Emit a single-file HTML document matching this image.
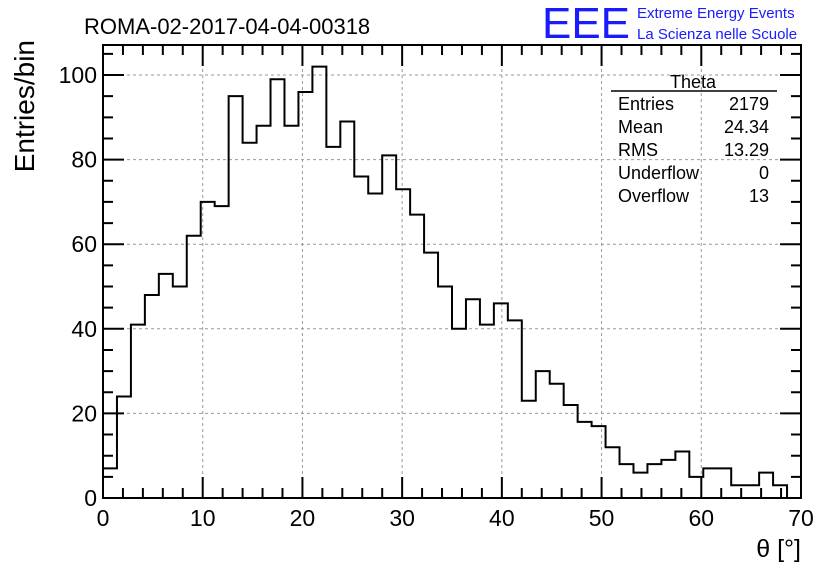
<!DOCTYPE html>
<html><head><meta charset="utf-8"><style>
body{margin:0;background:#fff;}
svg{display:block;font-family:"Liberation Sans",sans-serif;}
</style></head><body>
<svg id="c" width="836" height="572">
<rect width="836" height="572" fill="#fff"/>
<text x="84" y="34" font-size="22">ROMA-02-2017-04-04-00318</text>
<text x="542" y="38" font-size="44" fill="#1a1aff" textLength="88" lengthAdjust="spacingAndGlyphs">EEE</text>
<text x="637" y="18" font-size="15" fill="#1a1aff">Extreme Energy Events</text>
<text x="637" y="39" font-size="15" fill="#1a1aff">La Scienza nelle Scuole</text>
<g id="grid"></g>
<g id="axes"></g>
<path id="hist" fill="none" stroke="#000" stroke-width="2"/>
<text x="34" y="40" font-size="28" transform="rotate(-90 34 40)" text-anchor="end">Entries/bin</text>
<text x="801" y="557" font-size="25" text-anchor="end">θ [°]</text>
<g font-size="18">
<text x="693" y="88" text-anchor="middle">Theta</text>
<line x1="611" y1="91" x2="777" y2="91" stroke="#000" stroke-width="1.5"/>
<text x="618" y="110">Entries</text><text x="769" y="110" text-anchor="end">2179</text>
<text x="618" y="133">Mean</text><text x="769" y="133" text-anchor="end">24.34</text>
<text x="618" y="156">RMS</text><text x="769" y="156" text-anchor="end">13.29</text>
<text x="618" y="179">Underflow</text><text x="769" y="179" text-anchor="end">0</text>
<text x="618" y="202">Overflow</text><text x="769" y="202" text-anchor="end">13</text>
</g>
</svg>
<script>
const counts=[7,24,41,48,53,50,62,70,69,95,84,88,99,88,96,102,83,89,76,72,81,73,67,58,50,40,47,41,46,42,23,30,27,22,18,17,12,8,6,8,9,11,5,7,7,3,3,6,3,0];
const xTicks=[0,10,20,30,40,50,60,70];
const yTicks=[0,20,40,60,80,100];
const xMin=0,xMax=70,yMax=107.1,binW=1.4;
const L=103,R=801,T=45,B=498;
const sx=v=>L+(v-xMin)/(xMax-xMin)*(R-L);
const sy=v=>B-v/yMax*(B-T);
const NS='http://www.w3.org/2000/svg';
const grid=document.getElementById('grid'),axes=document.getElementById('axes');
function mk(p,tag,at){const e=document.createElementNS(NS,tag);for(const k in at)e.setAttribute(k,at[k]);p.appendChild(e);return e;}
xTicks.forEach(t=>{if(t>0&&t<70){const g=mk(grid,'line',{x1:sx(t),x2:sx(t),y1:T,y2:B,stroke:'#999','stroke-dasharray':'3,3'});

}
const lb=mk(axes,'text',{x:sx(t),y:B+28,'font-size':23,'text-anchor':'middle'});lb.textContent=t;

});
yTicks.forEach(t=>{if(t>0){const g=mk(grid,'line',{x1:L,x2:R,y1:sy(t),y2:sy(t),stroke:'#999','stroke-dasharray':'3,3'});

}
const lb=mk(axes,'text',{x:L-6,y:sy(t)+8,'font-size':23,'text-anchor':'end'});lb.textContent=t;

});
let d='';
for(let v=0;v<=70.001;v+=2){const maj=Math.abs(v%10)<1e-6||Math.abs(v%10-10)<1e-6;const len=maj?21:10;
d+=`M${sx(v)},${B}v${-len}M${sx(v)},${T}v${len}`;}
for(let v=0;v<=yMax;v+=5){const len=v%20===0?21:10;d+=`M${L},${sy(v)}h${len}M${R},${sy(v)}h${-len}`;}
const tk=mk(axes,'path',{d:d,stroke:'#000','stroke-width':2,fill:'none'});


const fr=mk(axes,'rect',{x:L,y:T,width:R-L,height:B-T,fill:'none',stroke:'#000','stroke-width':2});


let h=`M${sx(0)},${sy(0)}`;
counts.forEach((c,i)=>{h+=`L${sx(i*binW)},${sy(c)}L${sx((i+1)*binW)},${sy(c)}`;});
h+=`L${sx(counts.length*binW)},${sy(0)}`;
document.getElementById('hist').setAttribute('d',h);
</script>
</body></html>
